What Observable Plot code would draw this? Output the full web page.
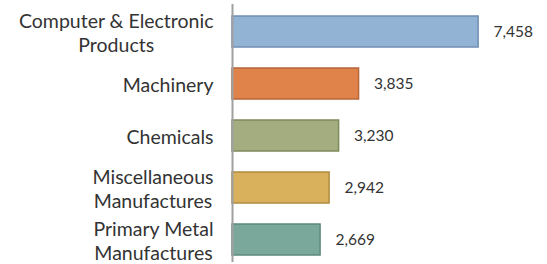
<!DOCTYPE html>
<html>
<head>
<meta charset="utf-8">
<script src="https://cdn.jsdelivr.net/npm/d3@7"></script>
<script src="https://cdn.jsdelivr.net/npm/@observablehq/plot@0.6"></script>
<style>
  html, body { margin: 0; padding: 0; background: #fff; }
  #chart svg { display: block; }
</style>
</head>
<body>
<div id="chart"></div>
<script>
const categories = [
  "Computer & Electronic\nProducts",
  "Machinery",
  "Chemicals",
  "Miscellaneous\nManufactures",
  "Primary Metal\nManufactures"
];
const values = [7458, 3835, 3230, 2942, 2669];
const fills = ["#93b3d5", "#e0834a", "#a3ad80", "#d9b15d", "#7aa89b"];
const strokes = ["#6f8fb3", "#b5663a", "#7f8a5d", "#b08b3e", "#5c8a7d"];

const data = categories.map((c, i) => ({cat: c, value: values[i], fill: fills[i], stroke: strokes[i]}));

const chart = Plot.plot({
  width: 547,
  height: 264,
  marginLeft: 232,
  marginRight: 51,
  marginTop: 4,
  marginBottom: 2,
  style: {fontFamily: "Lato, 'Open Sans', sans-serif", color: "#333", background: "#fff"},
  x: {domain: [0, 8000], axis: null},
  y: {domain: categories, axis: null, paddingInner: 0.407, paddingOuter: 0.172, align: 0.61},
  marks: [
    Plot.barX(data, {y: "cat", x: "value", fill: "fill", stroke: "stroke", strokeWidth: 1.5}),
    Plot.text(data, {y: "cat", x: 0, text: "cat", textAnchor: "end", dx: -19, fontSize: 19.5, lineHeight: 1.23, fill: "#333", className: "catlabels"}),
    Plot.text(data, {y: "cat", x: "value", text: d => d3.format(",")(d.value), textAnchor: "start", dx: 15, fontSize: 15.5, fill: "#333"}),
    Plot.ruleX([0], {stroke: "#a0a0a0", strokeWidth: 2})
  ]
});
document.getElementById("chart").appendChild(chart);

// Center multi-line category labels within their block (right edge kept in place)
chart.querySelectorAll(".catlabels text").forEach(t => {
  const w = t.getBBox().width;
  t.setAttribute("text-anchor", "middle");
  const tr = t.getAttribute("transform") || "";
  t.setAttribute("transform", tr + ` translate(${-w / 2},0)`);
});
</script>
</body>
</html>
